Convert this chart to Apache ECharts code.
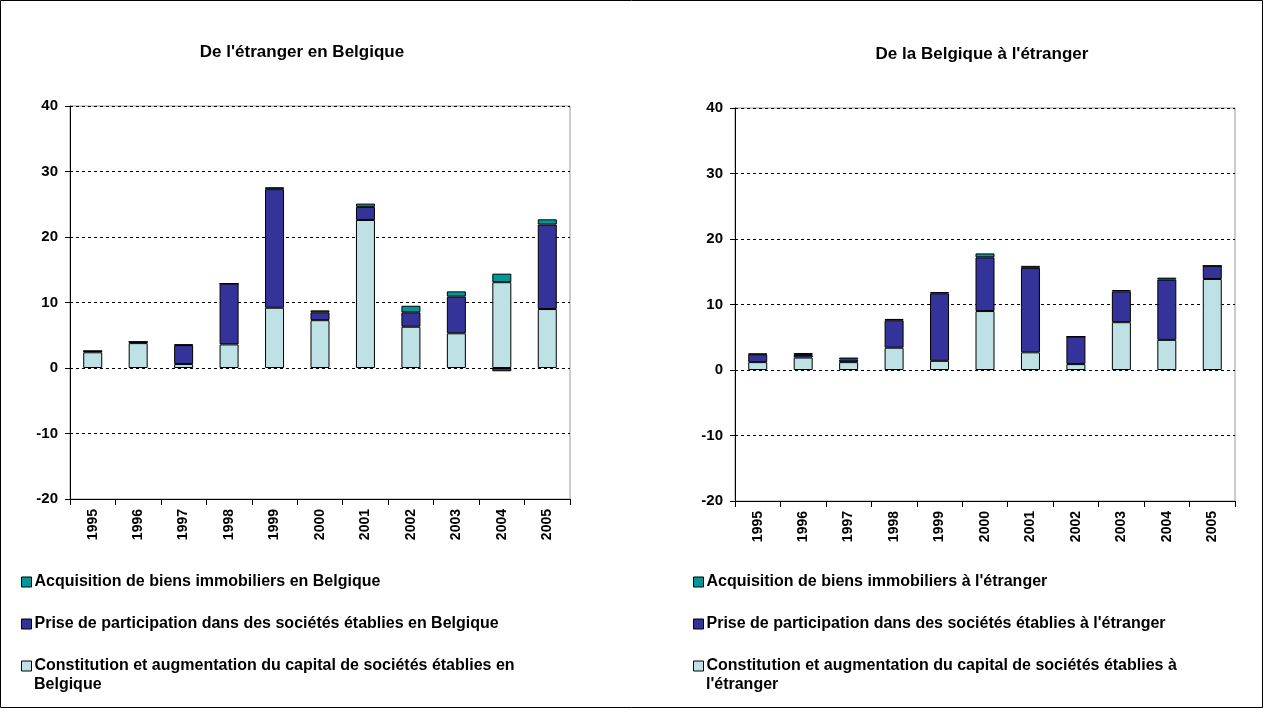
<!DOCTYPE html>
<html>
<head>
<meta charset="utf-8">
<script src="https://cdn.jsdelivr.net/npm/echarts@6/dist/echarts.min.js"></script>
<style>
  html, body { margin: 0; padding: 0; background: #fff; }
  #chart { width: 1263px; height: 708px; }
</style>
</head>
<body>
<div id="chart"></div>
<script>
var years = ['1995', '1996', '1997', '1998', '1999', '2000', '2001', '2002', '2003', '2004', '2005'];

// De l'étranger en Belgique
var inConstitution = [2.4, 3.8, 0.6, 3.6, 9.2, 7.3, 22.6, 6.3, 5.3, 13.1, 9.0];
var inParticipation = [0.2, 0.2, 2.9, 9.3, 18.1, 1.2, 2.0, 2.2, 5.6, -0.5, 12.9];
var inAcquisition = [0.0, 0.0, 0.1, 0.0, 0.3, 0.3, 0.5, 1.0, 0.8, 1.3, 0.8];

// De la Belgique à l'étranger
var outConstitution = [1.2, 1.9, 1.2, 3.4, 1.4, 9.0, 2.7, 0.9, 7.3, 4.6, 13.9];
var outParticipation = [1.2, 0.4, 0.4, 4.2, 10.3, 8.2, 12.9, 4.2, 4.7, 9.2, 2.0];
var outAcquisition = [0.1, 0.3, 0.3, 0.2, 0.2, 0.6, 0.3, 0.0, 0.2, 0.3, 0.0];

var colAcq = '#009999';
var colPart = '#333399';
var colConst = '#BDE1E4';

var font = 'Liberation Sans, Arial, sans-serif';
var legendSize = 16;

var leftNames = [
    'Acquisition de biens immobiliers en Belgique',
    'Prise de participation dans des sociétés établies en Belgique',
    'Constitution et augmentation du capital de sociétés établies en Belgique'
];
var rightNames = [
    "Acquisition de biens immobiliers à l'étranger",
    "Prise de participation dans des sociétés établies à l'étranger",
    "Constitution et augmentation du capital de sociétés établies à l'étranger"
];
var leftWrap = 'Belgique';
var rightWrap = "l'étranger";

function xAxis(idx) {
    return {
        type: 'category',
        gridIndex: idx,
        data: years,
        position: 'bottom',
        axisLine: { onZero: false, lineStyle: { color: '#000', width: 1 } },
        axisTick: { show: true, length: 6, lineStyle: { color: '#000' } },
        axisLabel: { rotate: 90, color: '#000', fontWeight: 'bold', fontSize: 14, fontFamily: font, margin: 10 }
    };
}

function yAxis(idx) {
    return {
        type: 'value',
        gridIndex: idx,
        min: -20,
        max: 40,
        interval: 10,
        axisLine: { show: true, lineStyle: { color: '#000', width: 1 } },
        axisTick: { show: true, length: 5, lineStyle: { color: '#000' } },
        axisLabel: { color: '#000', fontWeight: 'bold', fontSize: 15, fontFamily: font, margin: 12 },
        splitLine: { show: true, lineStyle: { color: '#000', type: [3, 3], width: 1 } }
    };
}

function bar(name, data, color, idx, stack) {
    return {
        name: name,
        type: 'bar',
        xAxisIndex: idx,
        yAxisIndex: idx,
        stack: stack,
        data: data,
        barWidth: 19,
        itemStyle: { color: color, borderColor: '#000', borderWidth: 1 }
    };
}

// one legend per item so the long last entry can wrap like the original
function legends(left, names, wrapWord) {
    var tops = [569, 611, 653];
    return names.map(function (n, i) {
        return {
            left: left,
            top: tops[i],
            orient: 'vertical',
            itemWidth: 10,
            itemHeight: 10,
            itemGap: 0,
            data: [{ name: n, icon: 'rect' }],
            itemStyle: { borderColor: '#000', borderWidth: 1 },
            formatter: function (name) {
                if (i === 2) {
                    return name.slice(0, name.length - wrapWord.length - 1);
                }
                return name;
            },
            textStyle: { color: '#000', fontWeight: 'bold', fontSize: legendSize, fontFamily: font, padding: [0, 0, 0, -2] }
        };
    });
}

var myChart = echarts.init(document.getElementById('chart'));

var option = {
    backgroundColor: '#fff',
    animation: false,
    title: [{
        text: "De l'étranger en Belgique",
        left: 297,
        top: 39,
        textAlign: 'center',
        textStyle: { fontSize: 17, fontWeight: 'bold', color: '#000', fontFamily: font }
    }, {
        text: "De la Belgique à l'étranger",
        left: 977,
        top: 41,
        textAlign: 'center',
        textStyle: { fontSize: 17, fontWeight: 'bold', color: '#000', fontFamily: font }
    }],
    grid: [
        { left: 70, top: 106, width: 500, height: 393, show: true, borderColor: '#999', borderWidth: 1 },
        { left: 735, top: 108, width: 500, height: 393, show: true, borderColor: '#999', borderWidth: 1 }
    ],
    xAxis: [xAxis(0), xAxis(1)],
    yAxis: [yAxis(0), yAxis(1)],
    legend: legends(16, leftNames, leftWrap).concat(legends(688, rightNames, rightWrap)),
    series: [
        bar(leftNames[2], inConstitution, colConst, 0, 'in'),
        bar(leftNames[1], inParticipation, colPart, 0, 'in'),
        bar(leftNames[0], inAcquisition, colAcq, 0, 'in'),
        bar(rightNames[2], outConstitution, colConst, 1, 'out'),
        bar(rightNames[1], outParticipation, colPart, 1, 'out'),
        bar(rightNames[0], outAcquisition, colAcq, 1, 'out')
    ],
    graphic: [{
        type: 'rect',
        shape: { x: 0.5, y: 0.5, width: 1262, height: 707 },
        style: { fill: 'none', stroke: '#000', lineWidth: 1 },
        silent: true
    }, {
        type: 'text',
        left: 34,
        top: 677,
        style: { text: leftWrap, fill: '#000', font: 'bold ' + legendSize + 'px ' + font }
    }, {
        type: 'text',
        left: 706,
        top: 677,
        style: { text: rightWrap, fill: '#000', font: 'bold ' + legendSize + 'px ' + font }
    }]
};
myChart.setOption(option);
</script>
</body>
</html>
